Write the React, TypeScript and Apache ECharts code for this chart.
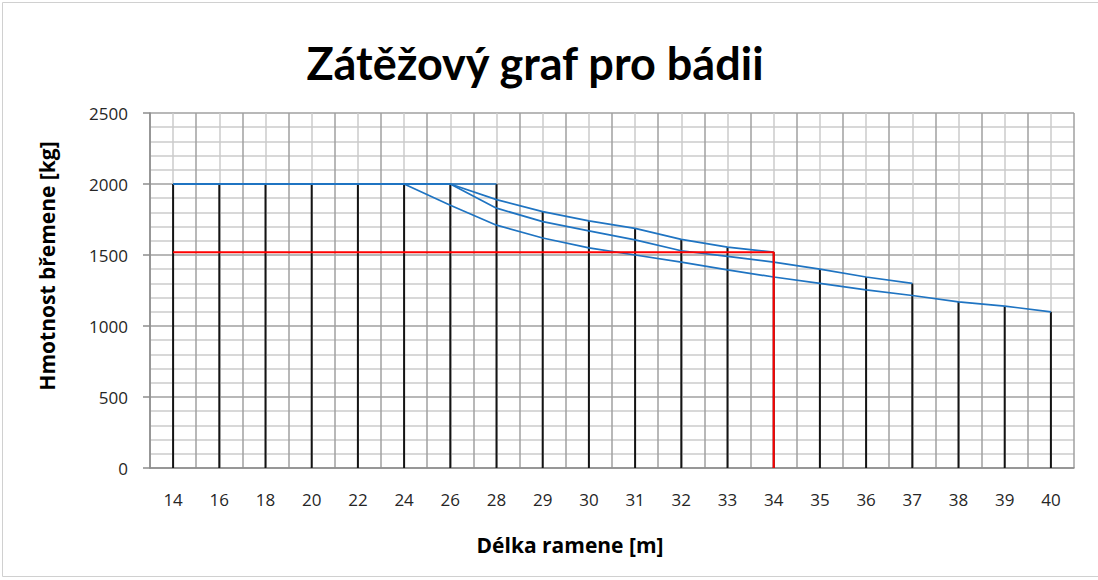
import React, { useEffect, useRef } from "react";
import * as echarts from "echarts";

const categories = ["14","16","18","20","22","24","26","28","29","30","31","32","33","34","35","36","37","38","39","40"];
const _ = null;
const maxReach28 = [2000,2000,2000,2000,2000,2000,2000,2000,_,_,_,_,_,_,_,_,_,_,_,_];
const reach40 = [2000,2000,2000,2000,2000,2000,1850,1710,1620,1550,1500,1450,1395,1345,1300,1255,1215,1170,1140,1100];
const reach37 = [2000,2000,2000,2000,2000,2000,2000,1830,1735,1670,1606,1530,1490,1450,1400,1345,1300,_,_,_];
const reach34 = [2000,2000,2000,2000,2000,2000,2000,1890,1805,1740,1688,1610,1555,1520,_,_,_,_,_,_];
const markReach = "34";
const markLoad = 1520;
const yTicks = [0, 500, 1000, 1500, 2000, 2500];

const title = "Zátěžový graf pro bádii";
const xName = "Délka ramene [m]";
const yName = "Hmotnost břemene [kg]";

export default function App() {
  const ref = useRef<HTMLDivElement>(null);
  useEffect(() => {
    if (!ref.current) return;
    const chart = echarts.init(ref.current, null, { renderer: "svg" });
    const all = [maxReach28, reach40, reach37, reach34];
    const drop = categories.map((_c, i) => {
      const vals = all.map((s) => s[i]).filter((v) => v !== null) as number[];
      return vals.length ? Math.max(...vals) : null;
    });
    const blue = "#1f74c2";
    const font = "'Open Sans', sans-serif";
    const lineSeries = (data: (number | null)[]) => ({
      type: "line",
      data,
      symbol: "none",
      xAxisIndex: 0,
      yAxisIndex: 0,
      lineStyle: { color: blue, width: 1.7 },
      z: 3,
    });
    chart.setOption({
      animation: false,
      backgroundColor: "#fff",
      grid: { left: 150, top: 113, width: 924, height: 355, containLabel: false },
      graphic: [
        { type: "rect", shape: { x: 2.5, y: 2.5, width: 1120, height: 574 }, style: { fill: "none", stroke: "#d0d0d0", lineWidth: 1 }, silent: true },
        { type: "text", x: 535, y: 63, style: { text: title, font: "bold 45px Lato, sans-serif", fill: "#000", textAlign: "center", textVerticalAlign: "middle" } },
        { type: "text", x: 570, y: 545, style: { text: xName, font: "bold 21px " + font, fill: "#000", textAlign: "center", textVerticalAlign: "middle" } },
        { type: "text", x: 47, y: 266, rotation: Math.PI / 2, style: { text: yName, font: "bold 21px " + font, fill: "#000", textAlign: "center", textVerticalAlign: "middle" } },
      ],
      xAxis: [
        {
          type: "category",
          data: categories,
          boundaryGap: true,
          axisLine: { show: true, lineStyle: { color: "#8c8c8c", width: 1.5 } },
          axisTick: { show: false },
          splitLine: { show: false },
          axisLabel: { color: "#262626", fontSize: 17, fontFamily: font, margin: 23 },
        },
        {
          type: "value",
          min: 0,
          max: categories.length,
          interval: 1,
          position: "bottom",
          show: true,
          axisLine: { show: false },
          axisTick: { show: false },
          axisLabel: { show: false },
          splitLine: { show: true, lineStyle: { color: "#a0a0a0", width: 1.5 } },
          minorTick: { show: false, splitNumber: 2 },
          minorSplitLine: { show: true, lineStyle: { color: "#cbcbcb", width: 1.5 } },
        },
      ],
      yAxis: {
        type: "value",
        min: 0,
        max: yTicks[yTicks.length - 1],
        interval: 500,
        axisLine: { show: true, lineStyle: { color: "#8c8c8c", width: 1.5 } },
        axisTick: { show: true, length: 7, lineStyle: { color: "#8c8c8c", width: 1.5 } },
        axisLabel: { color: "#262626", fontSize: 17, fontFamily: font, margin: 22, formatter: (v: number) => String(v) },
        splitLine: { show: true, lineStyle: { color: "#a0a0a0", width: 1.5 } },
        minorTick: { show: false, splitNumber: 5 },
        minorSplitLine: { show: true, lineStyle: { color: "#cbcbcb", width: 1.5 } },
      },
      series: [
        {
          type: "bar",
          data: drop,
          barWidth: 2,
          itemStyle: { color: "#141414" },
          xAxisIndex: 0,
          yAxisIndex: 0,
          z: 2,
        },
        lineSeries(maxReach28),
        lineSeries(reach40),
        lineSeries(reach37),
        lineSeries(reach34),
        {
          type: "line",
          data: [[categories[0], markLoad], [markReach, markLoad], [markReach, 0]],
          symbol: "none",
          xAxisIndex: 0,
          yAxisIndex: 0,
          lineStyle: { color: "#ff0000", width: 2 },
          z: 4,
        },
      ],
    });
    return () => chart.dispose();
  }, []);
  return (
    <div
      ref={ref}
      style={{ position: "fixed", left: 0, top: 0, width: 1098, height: 580, background: "#fff" }}
    />
  );
}
